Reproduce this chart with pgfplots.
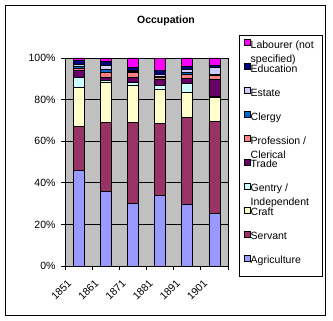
\documentclass[border=0pt]{standalone}
\usepackage{fontspec}
\setmainfont{Liberation Sans}
\usepackage{pgfplots}
\usepackage{pgfplotstable}
\pgfplotsset{compat=1.18}
\definecolor{cAgr}{HTML}{9999FF}
\definecolor{cServ}{HTML}{993366}
\definecolor{cCraft}{HTML}{FFFFCC}
\definecolor{cGentry}{HTML}{CCFFFF}
\definecolor{cTrade}{HTML}{660066}
\definecolor{cProf}{HTML}{FF8080}
\definecolor{cClergy}{HTML}{0066CC}
\definecolor{cEstate}{HTML}{CCCCFF}
\definecolor{cEduc}{HTML}{000080}
\definecolor{cLab}{HTML}{FF00FF}
\definecolor{cBg}{HTML}{C0C0C0}
\newcommand\f{\fontsize{10.5bp}{12bp}\selectfont}
\newcommand\twoline[2]{\smash{\rlap{\raisebox{-14bp}{#2}}}#1}
\pgfplotstableread{
x agr serv craft gentry trade prof clergy estate educ lab
0 45.9 21.2 18.8 4.7 3.3 1.2 0.8 1.0 1.8 1.3
1 35.8 33.2 19.3 0.8 1.6 2.2 1.6 2.1 1.6 1.8
2 30.0 39.0 17.8 1.5 2.4 2.2 0.7 0.5 1.4 4.5
3 34.1 34.5 16.4 1.7 3.2 0.6 0.6 1.0 2.0 5.9
4 29.7 41.8 12.1 4.0 2.4 2.1 0.8 1.5 1.7 3.9
5 25.2 44.3 11.5 0.4 8.5 1.9 0.5 3.2 1.1 3.4
}\datatable
\pgfplotsset{sq/.style={legend image code/.code={\draw[##1,draw=black,line width=0.5bp] (0bp,-0.3bp) rectangle (6bp,5.7bp);}}}
\begin{document}
\begin{tikzpicture}
\path[use as bounding box] (0,0) rectangle (333bp,321bp);
\draw[black, line width=0.8bp] (5.5bp,6bp) rectangle (325.5bp,316bp);
\node[font=\bfseries\f] at (166bp,300bp) {Occupation};
\begin{axis}[
  at={(65bp,55bp)}, anchor=south west,
  scale only axis, width=163bp, height=208bp,
  ybar stacked, bar width=11bp,
  xmin=-0.5, xmax=5.5, ymin=0, ymax=100,
  xtick={-0.5,0.5,...,5.5}, xticklabels={},
  extra x ticks={-0.43,0.57,1.57,2.57,3.57,4.57},
  extra x tick labels={1851,1861,1871,1881,1891,1901},
  extra x tick style={major tick length=0pt, xticklabel style={yshift=-11bp, rotate=45, anchor=north east, inner sep=1bp}},
  ytick={0,20,...,100}, yticklabels={0\%,20\%,40\%,60\%,80\%,100\%},
  xtick pos=left, ytick pos=left,
  tick align=outside, major tick length=4bp,
  tick style={black, line width=0.8bp},
  ymajorgrids, major grid style={black, line width=0.8bp},
  axis background/.style={fill=cBg},
  axis line style={black, line width=0.8bp},
  ticklabel style={font=\f, text=black},
  yticklabel style={xshift=-2bp},
  every axis plot/.append style={draw=black, line width=0.6bp},
  reverse legend,
  legend cell align=left,
  legend style={at={(axis description cs:1.098,1.091)}, anchor=north west, draw=none, fill=none, inner sep=0pt, row sep=13bp, font=\f,
    nodes={inner sep=0pt, text height=8bp, text depth=2bp},
    /tikz/every even column/.append style={column sep=3bp}},
]
\addplot[fill=cAgr, sq] table[x=x,y=agr]{\datatable}; \addlegendentry{Agriculture}
\addplot[fill=cServ, sq] table[x=x,y=serv]{\datatable}; \addlegendentry{Servant}
\addplot[fill=cCraft, sq] table[x=x,y=craft]{\datatable}; \addlegendentry{Craft}
\addplot[fill=cGentry, sq] table[x=x,y=gentry]{\datatable}; \addlegendentry{\twoline{Gentry /}{Independent}}
\addplot[fill=cTrade, sq] table[x=x,y=trade]{\datatable}; \addlegendentry{Trade}
\addplot[fill=cProf, sq] table[x=x,y=prof]{\datatable}; \addlegendentry{\twoline{Profession /}{Clerical}}
\addplot[fill=cClergy, sq] table[x=x,y=clergy]{\datatable}; \addlegendentry{Clergy}
\addplot[fill=cEstate, sq] table[x=x,y=estate]{\datatable}; \addlegendentry{Estate}
\addplot[fill=cEduc, sq] table[x=x,y=educ]{\datatable}; \addlegendentry{Education}
\addplot[fill=cLab, sq] table[x=x,y=lab]{\datatable}; \addlegendentry{\twoline{Labourer (not}{specified)}}
\end{axis}
\draw[black, line width=0.8bp] (239bp,45bp) rectangle (322bp,286bp);
\end{tikzpicture}
\end{document}
